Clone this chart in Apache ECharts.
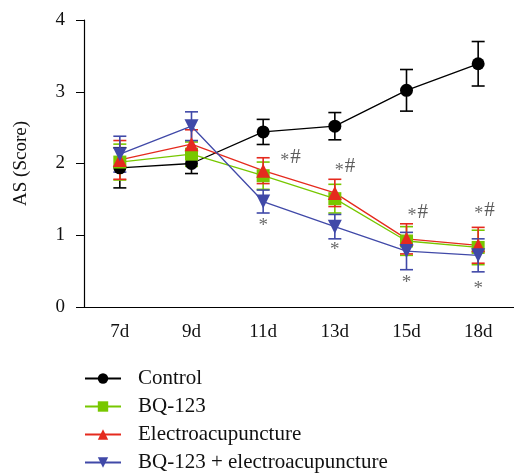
<!DOCTYPE html>
<html>
<head>
<meta charset="utf-8">
<script src="https://cdn.jsdelivr.net/npm/echarts@6/dist/echarts.min.js"></script>
<style>
  html, body { margin: 0; padding: 0; background: #fff; }
  #chart { width: 514px; height: 476px; }
</style>
</head>
<body>
<div id="chart"></div>
<script>
// data
const categories = ['7d', '9d', '11d', '13d', '15d', '18d'];
const yTicks = [0, 1, 2, 3, 4];

const controlMean = [1.94, 2.0, 2.44, 2.52, 3.02, 3.39];
const controlErr = [0.28, 0.14, 0.175, 0.19, 0.29, 0.31];
const bqMean = [2.02, 2.13, 1.83, 1.51, 0.92, 0.83];
const bqErr = [0.25, 0.17, 0.19, 0.2, 0.2, 0.24];
const eaMean = [2.05, 2.27, 1.90, 1.59, 0.95, 0.86];
const eaErr = [0.27, 0.2, 0.18, 0.19, 0.21, 0.25];
const comboMean = [2.13, 2.52, 1.47, 1.12, 0.78, 0.72];
const comboErr = [0.25, 0.2, 0.16, 0.17, 0.26, 0.23];

// significance marks
const hashIdx = [2, 3, 4, 5];
const hashY = [2.14, 2.01, 1.38, 1.40];
const starIdx = [2, 3, 4, 5];
const starY = [1.13, 0.8, 0.34, 0.25];

const groups = [
    { name: 'Control', mean: controlMean, err: controlErr, color: '#000000', symbol: 'circle', size: 13 },
    { name: 'BQ-123', mean: bqMean, err: bqErr, color: '#77c700', symbol: 'rect', size: 13 },
    { name: 'Electroacupuncture', mean: eaMean, err: eaErr, color: '#e52a1e', symbol: 'triangle', size: 14 },
    { name: 'BQ-123 + electroacupuncture', mean: comboMean, err: comboErr, color: '#4049a8', symbol: 'path://M0,0 L10,0 L5,9 Z', size: 14 }
];

const fontFamily = '"Liberation Serif", "DejaVu Serif", serif';

function errorSeries(g) {
    return {
        type: 'custom',
        z: 1,
        silent: true,
        data: g.mean.map((m, i) => [i, m - g.err[i], m + g.err[i]]),
        renderItem: (params, api) => {
            const lo = api.coord([api.value(0), api.value(1)]);
            const hi = api.coord([api.value(0), api.value(2)]);
            const w = 6.5;
            const style = { stroke: g.color, lineWidth: 1.6 };
            return {
                type: 'group',
                children: [
                    { type: 'line', shape: { x1: lo[0], y1: lo[1], x2: hi[0], y2: hi[1] }, style },
                    { type: 'line', shape: { x1: lo[0] - w, y1: lo[1], x2: lo[0] + w, y2: lo[1] }, style },
                    { type: 'line', shape: { x1: hi[0] - w, y1: hi[1], x2: hi[0] + w, y2: hi[1] }, style }
                ]
            };
        }
    };
}

const series = [];
groups.forEach(g => series.push(errorSeries(g)));
groups.forEach(g => {
    series.push({
        name: g.name,
        type: 'line',
        z: 3,
        data: g.mean,
        symbol: g.symbol,
        symbolSize: g.size,
        showAllSymbol: true,
        lineStyle: { color: g.color, width: 1.3 },
        itemStyle: { color: g.color },
        emphasis: { disabled: true }
    });
});

// annotations
series.push({
    type: 'scatter',
    z: 4,
    silent: true,
    symbolSize: 0,
    data: hashIdx.map((c, i) => [c, hashY[i]]),
    label: {
        show: true,
        offset: [0, -9],
        formatter: '{s|*}{h|#}',
        rich: {
            s: { fontFamily: fontFamily, fontSize: 18, color: '#444', padding: [8, 1, 0, 0] },
            h: { fontFamily: fontFamily, fontSize: 21, color: '#333' }
        }
    },
    labelLayout: (p) => {
        const shift = [17, 0, 1, -4][p.dataIndex];
        return { x: p.rect.x + shift };
    }
});
series.push({
    type: 'scatter',
    z: 4,
    silent: true,
    symbolSize: 0,
    data: starIdx.map((c, i) => [c, starY[i]]),
    label: {
        show: true,
        formatter: '*',
        color: '#444',
        fontFamily: fontFamily,
        fontSize: 19
    }
});

const chart = echarts.init(document.getElementById('chart'));
chart.setOption({
    animation: false,
    backgroundColor: '#fff',
    grid: { left: 84, right: -4, top: 20, bottom: 169 },
    legend: {
        data: groups.map(g => g.name),
        orient: 'vertical',
        left: 79,
        top: 363,
        height: 140,
        itemWidth: 36,
        itemHeight: 13,
        itemGap: 7,
        textStyle: { fontFamily: fontFamily, fontSize: 21, color: '#111', padding: [0, 0, 0, 12] }
    },
    xAxis: {
        type: 'category',
        data: categories,
        axisLine: { lineStyle: { color: '#000', width: 1.2 } },
        axisTick: { alignWithLabel: true, length: 8, lineStyle: { color: '#000' } },
        axisLabel: { color: '#111', fontFamily: fontFamily, fontSize: 19, margin: 16 }
    },
    yAxis: {
        type: 'value',
        min: yTicks[0],
        max: yTicks[yTicks.length - 1],
        interval: 1,
        name: 'AS (Score)',
        nameLocation: 'middle',
        nameGap: 53,
        nameTextStyle: { fontFamily: fontFamily, fontSize: 19, color: '#111' },
        splitLine: { show: false },
        axisLine: { show: true, lineStyle: { color: '#000', width: 1.2 } },
        axisTick: { show: true, length: 8, lineStyle: { color: '#000' } },
        axisLabel: { color: '#111', fontFamily: fontFamily, fontSize: 19, margin: 19 }
    },
    series: series
});
</script>
</body>
</html>
